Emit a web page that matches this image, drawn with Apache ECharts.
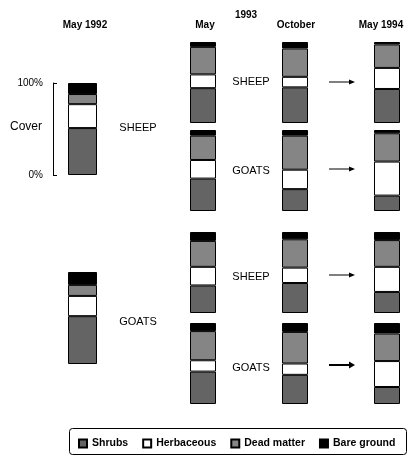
<!DOCTYPE html>
<html><head><meta charset="utf-8">
<script src="https://cdn.jsdelivr.net/npm/echarts@6/dist/echarts.min.js"></script>
<style>html,body{margin:0;padding:0;background:#fff}#c{width:408px;height:456px}</style>
</head><body><div id="c"></div>
<script>
// ---- data (percent cover) ----
const bars = ['1992 sheep plot','1992 goat plot',
  'Sheep→Sheep May 93','Sheep→Sheep Oct 93','Sheep→Sheep May 94',
  'Sheep→Goats May 93','Sheep→Goats Oct 93','Sheep→Goats May 94',
  'Goats→Sheep May 93','Goats→Sheep Oct 93','Goats→Sheep May 94',
  'Goats→Goats May 93','Goats→Goats Oct 93','Goats→Goats May 94'];
const shrubs      = [51, 52, 43, 44, 42, 40, 27, 19, 34, 37, 26, 40, 36, 21];
const herbaceous  = [26, 22, 17, 13, 26, 23, 24, 42, 23, 19, 31, 14, 14, 32];
const deadMatter  = [11, 12, 34, 35, 29, 30, 42, 35, 32, 35, 33, 36, 39, 34];
const bareGround  = [12, 14,  6,  8,  3,  7,  7,  4, 11,  9, 10, 10, 11, 13];
const seriesNames = ['Shrubs','Herbaceous','Dead matter','Bare ground'];
const colHeaders = ['May 1992','May','October','May 1994'];
const yearHeader = '1993';
const rowLabels = ['SHEEP','GOATS','SHEEP','GOATS'];
const leftLabels = ['SHEEP','GOATS'];
const axisTicks = ['0%','100%'];
const axisTitle = 'Cover';

// ---- layout ----
const FONT = "'Liberation Sans',Arial,sans-serif";
const colors = ['#646464','#ffffff','#858585','#000000'];
const leftX = 68, leftW = 29, leftH = 92, leftTops = [83, 272];
const colX = [190, 282, 374], colW = 26, rowTops = [42, 130, 232, 323], rowH = 81;

const boxes = [];
boxes.push({x: leftX, y: leftTops[0], w: leftW, h: leftH});
boxes.push({x: leftX, y: leftTops[1], w: leftW, h: leftH});
for (let r = 0; r < 4; r++) for (let c = 0; c < 3; c++) boxes.push({x: colX[c], y: rowTops[r], w: colW, h: rowH});

const valueSets = [shrubs, herbaceous, deadMatter, bareGround];
const grid = [], xAxis = [], yAxis = [], series = [];
boxes.forEach((b, i) => {
  grid.push({left: b.x, top: b.y, width: b.w, height: b.h, containLabel: false, outerBoundsMode: 'none'});
  xAxis.push({type: 'category', gridIndex: i, data: [bars[i]], show: false});
  const ya = {type: 'value', gridIndex: i, min: 0, max: 100, interval: 100, show: false};
  if (i === 0) {
    Object.assign(ya, {
      show: true, offset: 15,
      axisLine: {show: true, lineStyle: {color: '#000', width: 1}},
      axisTick: {show: true, inside: true, length: 4, lineStyle: {color: '#000'}},
      splitLine: {show: false},
      axisLabel: {color: '#000', fontFamily: FONT, fontSize: 10, margin: 10,
        formatter: v => v === 0 ? axisTicks[0] : axisTicks[1]}
    });
  }
  yAxis.push(ya);
  valueSets.forEach((vals, k) => {
    series.push({
      type: 'bar', name: seriesNames[k], xAxisIndex: i, yAxisIndex: i, stack: 's' + i,
      barWidth: '100%', data: [vals[i]], silent: true,
      itemStyle: {color: colors[k], borderColor: '#000', borderWidth: 1}
    });
  });
});

const txt = (x, y, s, opt) => ({type: 'text', x, y, style: Object.assign({text: s, fill: '#000', font: '11px ' + FONT, align: 'center', verticalAlign: 'middle'}, opt || {})});
const graphic = [];
const hdrX = [85, 205, 296, 381];
colHeaders.forEach((h, i) => graphic.push(txt(hdrX[i], 25, h, {font: 'bold 10px ' + FONT})));
graphic.push(txt(246, 15, yearHeader, {font: 'bold 10px ' + FONT}));
const rowLabelY = [82, 171, 277, 368];
rowLabels.forEach((s, i) => graphic.push(txt(251, rowLabelY[i], s)));
const leftLabelY = [128, 322];
leftLabels.forEach((s, i) => graphic.push(txt(138, leftLabelY[i], s)));
graphic.push(txt(42, 127, axisTitle, {font: '12px ' + FONT, align: 'right'}));
// arrows
const arrowY = [82, 169, 275, 365];
arrowY.forEach((y, i) => {
  const lw = i === 3 ? 2 : 1;
  graphic.push({type: 'line', shape: {x1: 329, y1: y, x2: 351, y2: y}, style: {stroke: '#000', lineWidth: lw}});
  graphic.push({type: 'polygon', shape: {points: [[355, y], [349, y - 2.5 - (lw - 1)], [349, y + 2.5 + (lw - 1)]]}, style: {fill: '#000'}});
});
// legend frame
graphic.push({type: 'rect', shape: {x: 69.5, y: 428.5, width: 337, height: 26, r: 3}, style: {fill: 'none', stroke: '#000', lineWidth: 1}});

const chart = echarts.init(document.getElementById('c'), null, {renderer: 'canvas'});
chart.setOption({
  animation: false,
  grid, xAxis, yAxis, series, graphic,
  legend: {
    data: seriesNames, left: 78, top: 438, width: 330, icon: 'rect', itemWidth: 8, itemHeight: 8, itemGap: 14,
    selectedMode: false, padding: 0,
    textStyle: {color: '#000', fontFamily: FONT, fontSize: 10.5, fontWeight: 'bold'}
  }
});
</script></body></html>
